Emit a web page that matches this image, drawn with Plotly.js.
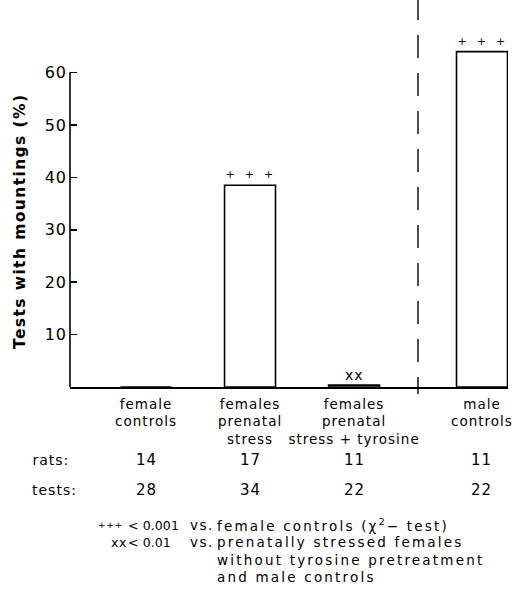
<!DOCTYPE html>
<html><head><meta charset="utf-8">
<script src="https://cdn.plot.ly/plotly-3.0.1.min.js"></script>
<style>
html,body{margin:0;padding:0;background:#fff}
#chart text{letter-spacing:1px}
</style></head><body>
<div id="chart" style="width:520px;height:595px"></div>
<script>
const categories = ['female controls', 'females prenatal stress', 'females prenatal stress + tyrosine', 'male controls'];
const tickLabels = ['female<br>controls', 'females<br>prenatal<br>stress', 'females<br>prenatal<br>stress + tyrosine', 'male<br>controls'];
const mountingPct = [0, 38.5, 0.35, 64];
const significance = ['', '+  +  +', 'xx', '+  +  +'];
const rats = [14, 17, 11, 11];
const tests = [28, 34, 22, 22];
const yTicks = [10, 20, 30, 40, 50, 60];

// geometry (pixels)
const W = 520, H = 595;
const mL = 70, mR = 12, mT = 12, mB = 208;
const plotW = W - mL - mR, plotH = H - mT - mB;
const px2x = p => (p - mL) / plotW;
const py2y = p => (H - mB - p) / plotH;
const split = px2x(418);

const FONT = 'DejaVu Sans, sans-serif';
const nLeft = 3;
const leftCats = categories.slice(0, nLeft), rightCats = categories.slice(nLeft);

const barStyle = {color: 'rgba(0,0,0,0)', line: {color: '#000', width: 1.6}};
const traces = [
  {type: 'bar', x: leftCats, y: mountingPct.slice(0, nLeft), width: 0.49, marker: barStyle,
   xaxis: 'x', yaxis: 'y', hoverinfo: 'skip', cliponaxis: false},
  {type: 'bar', x: rightCats, y: mountingPct.slice(nLeft), width: 0.49, marker: barStyle,
   xaxis: 'x2', yaxis: 'y', hoverinfo: 'skip', cliponaxis: false}
];

const annotations = [];
// significance marks above bars
categories.forEach((c, i) => {
  if (!significance[i]) return;
  const isX = significance[i].indexOf('x') >= 0;
  annotations.push({xref: i < nLeft ? 'x' : 'x2', yref: 'y', x: c, y: mountingPct[i],
    xanchor: 'center', yanchor: 'bottom', yshift: isX ? 0 : 2, showarrow: false, text: significance[i],
    font: {family: FONT, size: isX ? 14 : 11, color: '#000'}});
});
annotations.push({xref: 'paper', yref: 'paper', x: px2x(20), y: py2y(222), xanchor: 'center', yanchor: 'middle',
  textangle: -90, showarrow: false, text: '<span style="letter-spacing:1.4px">Tests with mountings (%)</span>',
  font: {family: FONT, size: 15.5, color: '#000', weight: 'bold'}});
const rowLabel = (t, py) => annotations.push({xref: 'paper', yref: 'paper', x: px2x(33), y: py2y(py),
  xanchor: 'left', yanchor: 'middle', text: t, showarrow: false, font: {family: FONT, size: 14, color: '#000'}});
rowLabel('rats:', 460);
rowLabel('tests:', 490);
categories.forEach((c, i) => {
  const xr = i < nLeft ? 'x' : 'x2';
  annotations.push({xref: xr, yref: 'paper', x: c, y: py2y(460), xanchor: 'center', yanchor: 'middle',
    text: String(rats[i]), showarrow: false, font: {family: FONT, size: 15, color: '#000'}});
  annotations.push({xref: xr, yref: 'paper', x: c, y: py2y(490), xanchor: 'center', yanchor: 'middle',
    text: String(tests[i]), showarrow: false, font: {family: FONT, size: 15, color: '#000'}});
});
const note = (t, px, py, size, anchor, ls) => annotations.push({xref: 'paper', yref: 'paper', x: px2x(px), y: py2y(py),
  xanchor: anchor || 'left', yanchor: 'middle', showarrow: false,
  text: '<span style="letter-spacing:' + (ls === undefined ? 2.2 : ls) + 'px">' + t + '</span>',
  font: {family: FONT, size: size || 13.5, color: '#000'}});
note('+++', 96, 525, 9, 'left', 0.8);
note('&lt; 0.001', 181, 525, 12.5, 'right', 0.1);
note('vs.', 188, 525, 13.5, 'left', 1.5);
note('female controls (χ<sup>2</sup>− test)', 215, 525);
note('xx', 109, 542, 12.5, 'left', 0.5);
note('&lt; 0.01', 173, 542, 12.5, 'right', 0.1);
note('vs.', 188, 542, 13.5, 'left', 1.5);
note('prenatally stressed females', 215, 542);
note('without tyrosine pretreatment', 215, 560);
note('and male controls', 215, 577);

const axisCommon = {type: 'category', anchor: 'y', ticks: '', showgrid: false, zeroline: false,
  showline: true, linecolor: '#000', linewidth: 1.6, tickfont: {family: FONT, size: 13.5, color: '#000'},
  ticklabelstandoff: 4, fixedrange: true};
const layout = {
  width: W, height: H,
  margin: {l: mL, r: mR, t: mT, b: mB, pad: 0},
  paper_bgcolor: '#fff', plot_bgcolor: '#fff',
  showlegend: false,
  font: {family: FONT, color: '#000'},
  xaxis: Object.assign({}, axisCommon, {domain: [0, split], range: [-0.731, 2.615],
    tickvals: leftCats, ticktext: tickLabels.slice(0, nLeft)}),
  xaxis2: Object.assign({}, axisCommon, {domain: [split, 1], range: [-0.615, 0.25],
    tickvals: rightCats, ticktext: tickLabels.slice(nLeft)}),
  yaxis: {range: [0, (H - mB - mT) / 5.24], tickvals: yTicks, ticks: 'inside', ticklen: 7, tickwidth: 1.5,
    tickcolor: '#000', showgrid: false, zeroline: false, showline: false,
    tickfont: {family: FONT, size: 16, color: '#000'}, ticklabelstandoff: 2, fixedrange: true},
  shapes: [
    {type: 'line', xref: 'paper', yref: 'y', x0: 0, x1: 0, y0: 0, y1: 60, line: {color: '#000', width: 1.6}},
    {type: 'line', xref: 'paper', yref: 'paper', x0: split, x1: split, y0: py2y(-3), y1: py2y(394),
     line: {color: '#000', width: 1.4, dash: '23px,15px'}}
  ],
  annotations: annotations
};
Plotly.newPlot('chart', traces, layout, {staticPlot: true, displayModeBar: false});
</script></body></html>
